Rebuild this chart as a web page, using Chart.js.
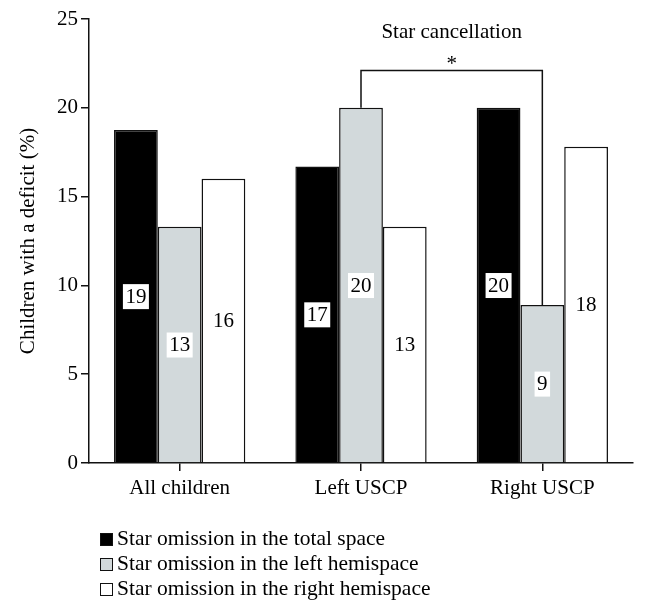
<!DOCTYPE html>
<html>
<head>
<meta charset="utf-8">
<script src="https://cdn.jsdelivr.net/npm/chart.js@4.4.1/dist/chart.umd.min.js"></script>
<style>
    html, body { margin: 0; padding: 0; background: #fff; }
    #wrap { position: relative; width: 647px; height: 615px; }
    #legend { position: absolute; left: 100px; top: 526px; font-family: "Liberation Serif", serif; font-size: 21.5px; color: #000; }
    #legend .row { height: 25px; line-height: 25px; white-space: nowrap; }
    #legend .box { display: inline-block; width: 11px; height: 11px; border: 1.5px solid #111; margin-right: 4px; vertical-align: -1px; }
</style>
</head>
<body>
<div id="wrap">
    <canvas id="chart" width="647" height="615"></canvas>
    <div id="legend"></div>
</div>
<script>
var categories = ['All children', 'Left USCP', 'Right USCP'];
var seriesNames = [
    'Star omission in the total space',
    'Star omission in the left hemispace',
    'Star omission in the right hemispace'
];
var totalSpace = [18.75, 16.7, 20.0];
var leftHemispace = [13.3, 20.0, 8.9];
var rightHemispace = [16.0, 13.3, 17.8];
var seriesColors = ['#000000', '#d2d9db', '#ffffff'];
var yMax = 25;
var yStep = 5;
var bracketTitle = 'Star cancellation';
var bracketLevel = 22.1;
var serif = '"Liberation Serif", "Times New Roman", serif';

(function () {
    'use strict';
    var values = [totalSpace, leftHemispace, rightHemispace];

    // value labels sit in the middle of each bar on a small white box
    var valueLabels = {
        id: 'valueLabels',
        afterDatasetsDraw: function (chart) {
            var ctx = chart.ctx;
            ctx.save();
            ctx.font = '21px ' + serif;
            ctx.textAlign = 'center';
            ctx.textBaseline = 'middle';
            chart.data.datasets.forEach(function (ds, i) {
                chart.getDatasetMeta(i).data.forEach(function (bar, j) {
                    var txt = String(Math.round(ds.data[j]));
                    var w = ctx.measureText(txt).width + 5;
                    var cy = (bar.y + bar.base) / 2;
                    ctx.fillStyle = '#fff';
                    ctx.fillRect(bar.x - w / 2, cy - 12, w, 25);
                    ctx.fillStyle = '#000';
                    ctx.fillText(txt, bar.x, cy + 1);
                });
            });
            ctx.restore();
        }
    };

    // significance bracket between left hemispace of Left USCP and Right USCP
    var bracket = {
        id: 'bracket',
        afterDatasetsDraw: function (chart) {
            var ctx = chart.ctx;
            var x = chart.scales.x, y = chart.scales.y;
            var x1 = x.getPixelForValue(1), x2 = x.getPixelForValue(2);
            var top = y.getPixelForValue(bracketLevel);
            ctx.save();
            ctx.strokeStyle = '#111';
            ctx.lineWidth = 1.5;
            ctx.beginPath();
            ctx.moveTo(x1, y.getPixelForValue(leftHemispace[1]));
            ctx.lineTo(x1, top);
            ctx.lineTo(x2, top);
            ctx.lineTo(x2, y.getPixelForValue(leftHemispace[2]));
            ctx.stroke();
            ctx.fillStyle = '#000';
            ctx.textAlign = 'center';
            ctx.textBaseline = 'middle';
            ctx.font = '21px ' + serif;
            ctx.fillText('*', (x1 + x2) / 2, top - 6);
            ctx.fillText(bracketTitle, (x1 + x2) / 2, y.getPixelForValue(24.25));
            ctx.restore();
        }
    };

    var chart = new Chart(document.getElementById('chart'), {
        type: 'bar',
        data: {
            labels: categories,
            datasets: values.map(function (v, i) {
                return {
                    label: seriesNames[i],
                    data: v,
                    backgroundColor: seriesColors[i],
                    borderColor: '#111',
                    borderWidth: 1.5,
                    barPercentage: 1,
                    categoryPercentage: 0.724
                };
            })
        },
        options: {
            responsive: false,
            animation: false,
            layout: { padding: { left: 0, right: 14, top: 19, bottom: 107 } },
            plugins: {
                legend: { display: false },
                tooltip: { enabled: false }
            },
            scales: {
                x: {
                    afterFit: function (s) { s.height = 45; },
                    grid: { offset: false, drawOnChartArea: false, tickLength: 8, color: '#111', lineWidth: 1.5 },
                    border: { color: '#111', width: 1.5 },
                    ticks: { color: '#000', padding: 5, font: { family: serif, size: 21 } }
                },
                y: {
                    min: 0,
                    max: yMax,
                    afterFit: function (s) { s.width = 89; },
                    grid: { drawOnChartArea: false, tickLength: 8, color: '#111', lineWidth: 1.5 },
                    border: { color: '#111', width: 1.5 },
                    ticks: { stepSize: yStep, color: '#000', padding: 3, font: { family: serif, size: 21 } },
                    title: {
                        display: true,
                        text: 'Children with a deficit (%)',
                        color: '#000',
                        padding: { top: 16, bottom: 0 },
                        font: { family: serif, size: 21 }
                    }
                }
            }
        },
        plugins: [valueLabels, bracket]
    });

    var legend = document.getElementById('legend');
    chart.data.datasets.forEach(function (ds) {
        var row = document.createElement('div');
        row.className = 'row';
        var box = document.createElement('span');
        box.className = 'box';
        box.style.background = ds.backgroundColor;
        row.appendChild(box);
        row.appendChild(document.createTextNode(ds.label));
        legend.appendChild(row);
    });
})();
</script>
</body>
</html>
